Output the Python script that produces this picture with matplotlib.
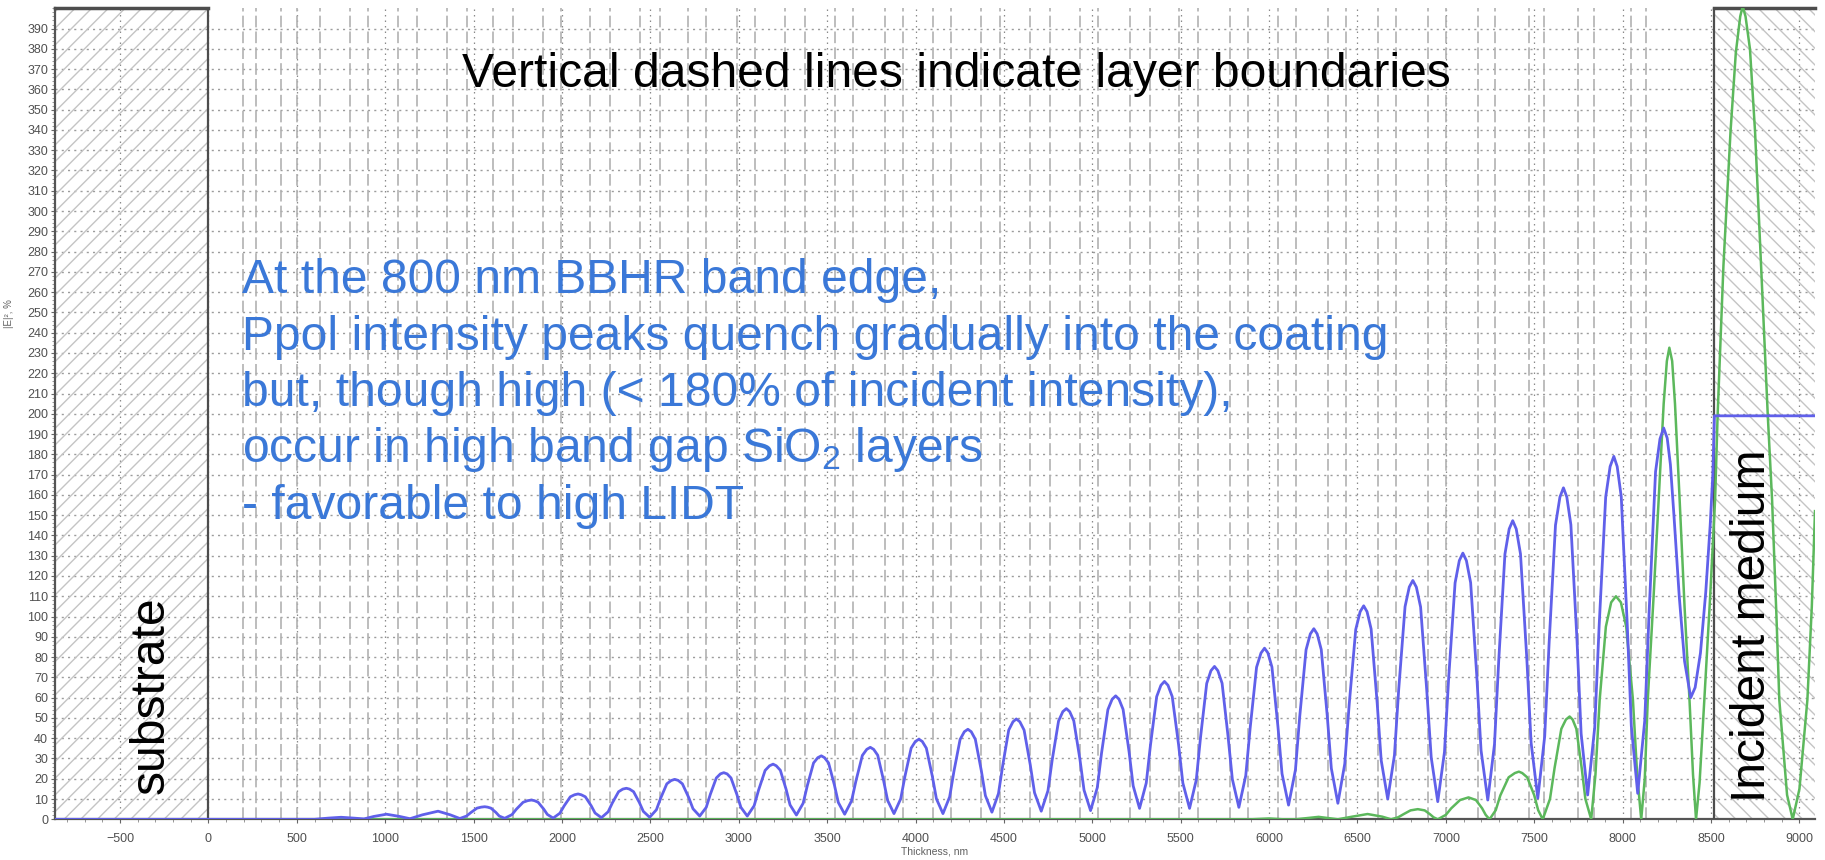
import matplotlib
matplotlib.use("Agg")
import matplotlib.pyplot as plt
from matplotlib.patches import Rectangle
from matplotlib.ticker import MultipleLocator

plt.rcParams["font.family"] = ["Liberation Sans", "DejaVu Sans"]
plt.rcParams["mathtext.fontset"] = "custom"
plt.rcParams["mathtext.rm"] = "Liberation Sans"
plt.rcParams["mathtext.default"] = "rm"
plt.rcParams["hatch.linewidth"] = 1.0
plt.rcParams["hatch.color"] = "#c4c4c4"

# -------- data --------
x_min, x_max = -868, 9088
substrate_end = 0
incident_start = 8519

# |E|^2 (%) vs thickness (nm), blue trace
blue_trace = [
    (-868, 0), (600, 0),
    (680, 0.6), (750, 1.0), (820, 0.6), (880, 0.2),
    (935, 1.4), (1007, 2.5), (1082, 1.4), (1140, 0.3),
    (1210, 2.2), (1299, 4.0), (1368, 2.2), (1422, 0.4),
    (1460, 1.6), (1484, 3.3), (1519, 5.5), (1543, 6.0), (1563, 6.2),
    (1579, 6.0), (1598, 5.5), (1626, 3.4), (1645, 1.6), (1676, 0.5),
    (1717, 2.3), (1742, 5.0), (1780, 8.4), (1806, 9.2), (1827, 9.5),
    (1844, 9.2), (1865, 8.4), (1896, 5.1), (1917, 2.4), (1950, 0.6),
    (1988, 3.0), (2012, 6.6), (2047, 11.1), (2071, 12.1), (2091, 12.5),
    (2109, 12.1), (2132, 11.1), (2165, 6.7), (2187, 3.1), (2223, 0.8),
    (2261, 3.7), (2285, 8.1), (2320, 13.6), (2344, 14.9), (2364, 15.3),
    (2382, 14.9), (2405, 13.6), (2438, 8.2), (2460, 3.9), (2496, 1.0),
    (2534, 4.7), (2558, 10.4), (2593, 17.5), (2617, 19.1), (2637, 19.7),
    (2657, 19.2), (2681, 17.5), (2717, 10.7), (2741, 5.2), (2779, 1.6),
    (2816, 5.9), (2839, 12.3), (2873, 20.4), (2896, 22.4), (2915, 23.0),
    (2934, 22.4), (2956, 20.4), (2989, 12.3), (3012, 5.9), (3048, 1.6),
    (3087, 6.7), (3112, 14.4), (3149, 24.1), (3174, 26.4), (3194, 27.2),
    (3212, 26.4), (3235, 24.2), (3268, 14.7), (3290, 7.1), (3326, 2.1),
    (3364, 7.9), (3388, 16.7), (3423, 27.8), (3447, 30.4), (3467, 31.3),
    (3485, 30.4), (3508, 27.8), (3541, 16.9), (3563, 8.3), (3599, 2.5),
    (3638, 9.1), (3663, 19.0), (3699, 31.5), (3724, 34.5), (3744, 35.5),
    (3763, 34.5), (3786, 31.6), (3819, 19.2), (3842, 9.3), (3878, 2.8),
    (3916, 10.1), (3940, 21.2), (3975, 35.1), (3999, 38.4), (4019, 39.5),
    (4038, 38.4), (4061, 35.1), (4095, 21.2), (4118, 10.1), (4155, 2.8),
    (4193, 11.1), (4217, 23.6), (4252, 39.4), (4276, 43.2), (4296, 44.4),
    (4315, 43.2), (4338, 39.5), (4372, 24.0), (4395, 11.7), (4432, 3.5),
    (4469, 12.7), (4493, 26.5), (4527, 44.0), (4551, 48.1), (4570, 49.5),
    (4590, 48.1), (4614, 44.0), (4649, 26.8), (4673, 13.1), (4711, 4.0),
    (4749, 14.1), (4773, 29.3), (4809, 48.5), (4833, 53.1), (4853, 54.6),
    (4872, 53.1), (4895, 48.6), (4930, 29.5), (4953, 14.4), (4990, 4.3),
    (5028, 15.6), (5052, 32.6), (5088, 54.1), (5112, 59.2), (5132, 60.9),
    (5151, 59.2), (5174, 54.2), (5208, 33.2), (5231, 16.5), (5267, 5.4),
    (5305, 17.9), (5329, 36.7), (5364, 60.5), (5388, 66.1), (5408, 68.0),
    (5428, 66.1), (5452, 60.5), (5488, 36.7), (5512, 17.9), (5550, 5.4),
    (5588, 19.4), (5612, 40.4), (5647, 67.0), (5671, 73.3), (5691, 75.4),
    (5710, 73.3), (5734, 67.1), (5768, 40.7), (5792, 19.8), (5829, 5.9),
    (5868, 21.6), (5893, 45.2), (5929, 75.0), (5954, 82.0), (5974, 84.4),
    (5993, 82.1), (6016, 75.1), (6050, 45.7), (6073, 22.5), (6110, 7.0),
    (6149, 24.4), (6173, 50.5), (6209, 83.6), (6233, 91.4), (6253, 94.0),
    (6272, 91.4), (6295, 83.7), (6329, 50.9), (6352, 25.1), (6389, 7.9),
    (6428, 27.4), (6453, 56.6), (6490, 93.6), (6515, 102.4), (6535, 105.3),
    (6554, 102.4), (6577, 93.9), (6611, 57.7), (6634, 29.1), (6671, 10.0),
    (6709, 31.6), (6733, 63.9), (6769, 104.9), (6793, 114.6), (6813, 117.8),
    (6833, 114.5), (6857, 104.7), (6892, 63.3), (6917, 30.5), (6954, 8.7),
    (6992, 33.2), (7016, 70.0), (7052, 116.6), (7076, 127.6), (7096, 131.3),
    (7116, 127.6), (7140, 116.7), (7175, 70.4), (7199, 33.9), (7237, 9.5),
    (7275, 37.1), (7299, 78.4), (7334, 130.8), (7358, 143.2), (7378, 147.3),
    (7398, 143.2), (7422, 130.9), (7458, 78.9), (7482, 37.8), (7520, 10.4),
    (7559, 41.0), (7584, 87.0), (7620, 145.1), (7645, 158.9), (7665, 163.5),
    (7684, 159.0), (7707, 145.3), (7742, 87.8), (7765, 42.3), (7802, 12.0),
    (7842, 45.4), (7867, 95.5), (7904, 159.0), (7929, 174.0), (7950, 179.0),
    (7969, 174.0), (7992, 159.1), (8026, 95.9), (8049, 46.0), (8085, 12.8),
    (8125, 48.8), (8150, 102.9), (8186, 171.4), (8211, 187.6), (8232, 193.0),
    (8252, 188.0), (8270, 175.0), (8290, 150.0), (8320, 110.0), (8350, 78.0),
    (8385, 60.0), (8410, 65.0), (8440, 82.0), (8470, 112.0), (8495, 145.0),
    (8510, 170.0), (8519, 199.0), (9088, 199.0),
]

# green trace
green_trace = [
    (-868, 0), (5900, 0), (6000, 0.4), (6080, 0), (6150, 0), (6280, 1.2), (6389, 0),
    (6470, 1.3), (6557, 2.6), (6640, 1.3), (6690, 0),
    (6730, 1.0), (6760, 2.5), (6800, 4.4), (6841, 5.0), (6880, 4.4), (6910, 2.5),
    (6930, 1.0), (6954, 0),
    (7000, 2.2), (7030, 5.4), (7080, 9.5), (7128, 10.8), (7170, 9.5), (7205, 5.4),
    (7225, 2.2), (7247, 0),
    (7282, 4.5), (7308, 11.8), (7355, 20.7), (7390, 22.8), (7413, 23.5),
    (7432, 22.8), (7460, 20.7), (7500, 11.8), (7522, 4.5), (7548, 0),
    (7589, 10.1), (7615, 25.4), (7653, 44.6), (7679, 49.2), (7700, 50.7),
    (7717, 49.2), (7738, 44.6), (7768, 25.4), (7789, 10.1), (7822, 0),
    (7846, 22.0), (7870, 59.0), (7905, 95.0), (7935, 107.0), (7962, 110.0),
    (7990, 107.0), (8020, 95.0), (8058, 59.0), (8082, 22.0), (8105, 0),
    (8125, 20.0), (8142, 59.0), (8175, 110.0), (8208, 165.0), (8232, 205.0),
    (8250, 226.0), (8264, 232.6), (8280, 226.0), (8296, 205.0), (8321, 160.0),
    (8350, 105.0), (8378, 59.0), (8398, 22.0), (8415, 0),
    (8435, 18.0), (8462, 59.0), (8495, 110.0), (8523, 158.0), (8537, 199.0),
    (8570, 273.0), (8610, 339.0), (8640, 378.0), (8665, 396.0), (8679, 401.0),
    (8695, 396.0), (8720, 380.0), (8749, 339.0), (8783, 273.0), (8821, 199.0),
    (8845, 158.0), (8870, 100.0), (8886, 59.0), (8930, 12.0), (8962, 0),
    (9000, 15.0), (9045, 59.0), (9070, 105.0), (9088, 152.0),
]

layer_boundaries = [
    196, 268, 413, 502, 630, 800, 903, 1073, 1177, 1347, 1460, 1610, 1723, 1893,
    1997, 2157, 2270, 2440, 2553, 2713, 2817, 2990, 3090, 3260, 3373, 3542, 3646,
    3825, 3929, 4098, 4202, 4372, 4480, 4645, 4758, 4928, 5031, 5211, 5324, 5493,
    5597, 5776, 5880, 6049, 6153, 6332, 6436, 6615, 6719, 6898, 6998, 7180, 7280,
    7468, 7557, 7750, 7840, 8045, 8130,
]

x_ticks = list(range(-500, 9001, 500))
y_ticks = list(range(0, 391, 10))

title_text = "Vertical dashed lines indicate layer boundaries"
note_lines = [
    "At the 800 nm BBHR band edge,",
    "Ppol intensity peaks quench gradually into the coating",
    "but, though high (< 180% of incident intensity),",
    "occur in high band gap SiO$_2$ layers",
    "- favorable to high LIDT",
]

W, H = 1825, 860


def fx(px):
    return px / W


def fy(py):
    return 1 - py / H


fig = plt.figure(figsize=(W / 100, H / 100), dpi=100)
ax = fig.add_axes([55 / W, 1 - 819.3 / H, (1815 - 55) / W, (819.3 - 8.3) / H])
ax.set_xlim(x_min, x_max)
ax.set_ylim(0, 400)

# grid
for yv in y_ticks[1:]:
    ax.axhline(yv, color="#9c9c9c", lw=1.0, ls=(0, (1.5, 3)), zorder=1)
for xv in x_ticks:
    ax.axvline(xv, color="#8a8a8a", lw=0.9, ls=(0, (1.2, 3.2)), zorder=1)

# layer boundaries
for xb in layer_boundaries:
    ax.axvline(xb, color="#b2b2b2", lw=1.2, ls=(0, (7, 2.5)), zorder=2)

# substrate and incident medium
ax.add_patch(Rectangle((x_min, 0), substrate_end - x_min, 400, facecolor="none",
                       edgecolor="#c4c4c4", hatch="//", lw=0, zorder=1.5))
ax.add_patch(Rectangle((incident_start, 0), x_max - incident_start, 400,
                       facecolor="none", edgecolor="#c4c4c4", hatch="\\\\", lw=0,
                       zorder=1.5))
border = "#4d4d4d"
ax.plot([substrate_end, substrate_end], [0, 400], color=border, lw=1.6, zorder=3)
ax.plot([x_min, substrate_end], [400, 400], color=border, lw=2.5, zorder=3,
        clip_on=False)
ax.plot([incident_start, incident_start], [0, 400], color=border, lw=1.6, zorder=3)
ax.plot([incident_start, x_max], [400, 400], color=border, lw=2.5, zorder=3,
        clip_on=False)

# curves
gx, gy = zip(*green_trace)
bx, by = zip(*blue_trace)
ax.plot(gx, gy, color="#5cb85c", lw=1.8, zorder=4)
ax.plot(bx, by, color="#6060ea", lw=2.0, zorder=5)

# axes styling
for side in ("top", "right"):
    ax.spines[side].set_visible(False)
for side in ("left", "bottom"):
    ax.spines[side].set_color("#555555")
    ax.spines[side].set_linewidth(1.6)
ax.set_xticks(x_ticks)
ax.set_yticks(y_ticks)
ax.xaxis.set_minor_locator(MultipleLocator(100))
ax.yaxis.set_minor_locator(MultipleLocator(2))
ax.tick_params(axis="both", which="major", labelsize=9, labelcolor="#505050",
               color="#666666", length=3, width=0.8)
ax.tick_params(axis="both", which="minor", color="#888888", length=2, width=0.6)
ax.tick_params(axis="x", pad=7)
ax.tick_params(axis="y", pad=2)

fig.text(fx(935), fy(851), "Thickness, nm", ha="center", va="center",
         fontsize=7.5, color="#606060")
fig.text(fx(9), fy(314), "|E|², %", ha="center", va="center", rotation=90,
         fontsize=7, color="#606060")

# annotations
fig.text(fx(956), fy(87), title_text, ha="center", va="baseline", fontsize=34.6,
         color="black")
for i, line in enumerate(note_lines):
    fig.text(fx(242), fy(293 + 56.5 * i), line, ha="left", va="baseline",
             fontsize=34.6, color="#3a78d8")
fig.text(fx(164), fy(695), "substrate", rotation=90, rotation_mode="anchor",
         ha="center", va="baseline", fontsize=34.6, color="black")
fig.text(fx(1765), fy(626), "Incident medium", rotation=90, rotation_mode="anchor",
         ha="center", va="baseline", fontsize=34.6, color="black")

fig.savefig("out.png", dpi=100)
